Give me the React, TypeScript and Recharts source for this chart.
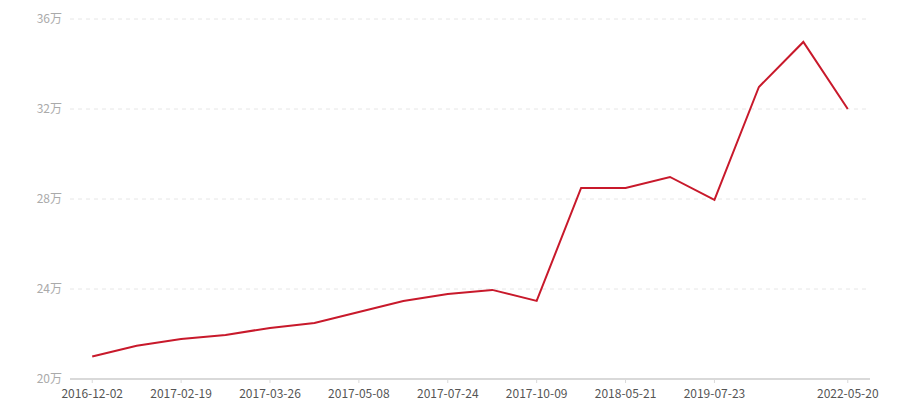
import React from 'react';
import { LineChart, Line, XAxis, YAxis, CartesianGrid } from 'recharts';

const dates = [
  '2016-12-02', '2017-01-08', '2017-02-19', '2017-03-05', '2017-03-26', '2017-04-15',
  '2017-05-08', '2017-06-12', '2017-07-24', '2017-09-01', '2017-10-09', '2018-01-20',
  '2018-05-21', '2018-12-10', '2019-07-23', '2020-06-15', '2021-05-18', '2022-05-20',
];
const prices = [
  210000, 214800, 217800, 219600, 222700, 224900,
  229800, 234700, 237800, 239600, 234700, 284900,
  284900, 289800, 279600, 329800, 349800, 320000,
];
const xTicks = [
  '2016-12-02', '2017-02-19', '2017-03-26', '2017-05-08', '2017-07-24',
  '2017-10-09', '2018-05-21', '2019-07-23', '2022-05-20',
];
const yTicks = [200000, 240000, 280000, 320000, 360000];

const data = dates.map((d, i) => ({ date: d, price: prices[i] }));

const FONT = '"Noto Sans CJK SC", "Noto Sans", sans-serif';

export default function App() {
  return (
    <div style={{ position: 'absolute', left: 0, top: 0, width: 900, height: 400, background: '#fff' }}>
      <LineChart
        width={900}
        height={400}
        data={data}
        margin={{ top: 19, right: 30, bottom: 0, left: 0 }}
      >
        <CartesianGrid
          vertical={false}
          stroke="#e6e6e6"
          strokeDasharray="4 4"
        />
        <XAxis
          dataKey="date"
          scale="band"
          ticks={xTicks}
          interval={0}
          height={21}
          tickSize={4}
          tickMargin={6}
          stroke="#d9d9d9"
          axisLine={{ stroke: '#d9d9d9', strokeWidth: 2 }}
          tickLine={{ stroke: '#d9d9d9' }}
          tick={{ fill: '#555', fontSize: 12, fontFamily: FONT }}
        />
        <YAxis
          width={70}
          domain={[200000, 360000]}
          ticks={yTicks}
          axisLine={false}
          tickLine={false}
          tick={{ fill: '#aaa', fontSize: 12, fontFamily: FONT }}
          tickFormatter={(v: number) => `${v / 10000}万`}
        />
        <Line
          type="linear"
          dataKey="price"
          stroke="#c8192b"
          strokeWidth={2}
          dot={false}
          activeDot={false}
          isAnimationActive={false}
        />
      </LineChart>
    </div>
  );
}
